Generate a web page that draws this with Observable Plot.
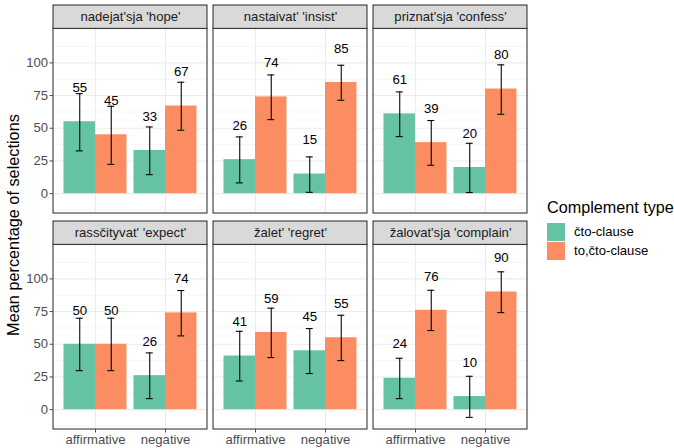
<!DOCTYPE html>
<html><head><meta charset="utf-8">
<script src="https://cdn.jsdelivr.net/npm/d3@7"></script>
<script src="https://cdn.jsdelivr.net/npm/@observablehq/plot@0.6"></script>
<style>
body{margin:0;background:#fff;font-family:"Liberation Sans",Arial,sans-serif;}
#wrap{position:relative;width:674px;height:448px;overflow:hidden;background:#fff;}
#chart{position:absolute;left:0;top:0;}
#ytitle{position:absolute;left:12.5px;top:224.5px;transform:translate(-50%,-50%) rotate(-90deg);white-space:nowrap;font-size:16.3px;color:#000;line-height:1;}
.lg{position:absolute;white-space:nowrap;}
#lgtitle{left:547px;top:197.5px;font-size:16.2px;line-height:18px;color:#000;}
.key{position:absolute;left:547px;width:18px;height:18px;}
.klab{position:absolute;left:574px;font-size:13.1px;line-height:18px;color:#000;white-space:nowrap;}
</style>
</head><body>
<div id="wrap">
<div id="chart"></div>
<div id="ytitle">Mean percentage of selections</div>
<div id="legend"></div>
</div>
<script>
const verbs = ["nadejat'sja 'hope'", "nastaivat' 'insist'", "priznat'sja 'confess'",
               "rassčityvat' 'expect'", "žalet' 'regret'", "žalovat'sja 'complain'"];
const conditions = ["affirmative", "negative"];
const complements = ["čto-clause", "to,čto-clause"];
const colors = ["#66c2a5", "#fc8d62"];
const legendTitle = "Complement type";
const yTicks = [0, 25, 50, 75, 100];
const yMinor = [-12.5, 12.5, 37.5, 62.5, 87.5, 112.5];

// mean percentages
const ctoAff = [55, 26, 61, 50, 41, 24];
const toAff  = [45, 74, 39, 50, 59, 76];
const ctoNeg = [33, 15, 20, 26, 45, 10];
const toNeg  = [67, 85, 80, 74, 55, 90];
// error bar bounds
const ctoAffLo = [32.7, 8.2, 43.6, 29.8, 21.9, 8.4];
const ctoAffHi = [76.5, 43.4, 77.8, 69.9, 59.9, 39.3];
const toAffLo  = [22.4, 56.6, 21.7, 29.8, 39.8, 60.5];
const toAffHi  = [66.8, 90.8, 55.9, 69.9, 77.6, 91.3];
const ctoNegLo = [14.5, 1.0, 0.8, 8.4, 27.6, -5.9];
const ctoNegHi = [51.0, 28.1, 38.5, 43.4, 62.0, 25.5];
const toNegLo  = [48.5, 71.4, 60.7, 56.4, 37.5, 74.2];
const toNegHi  = [85.2, 98.2, 98.5, 91.1, 72.2, 105.4];

const rows = [];
verbs.forEach((v, i) => {
  const add = (ci, k, value, lo, hi) => rows.push({
    verb: v, col: i % 3, row: Math.floor(i / 3),
    ci, cond: conditions[ci], k, comp: complements[k], value, lo, hi
  });
  add(0, 0, ctoAff[i], ctoAffLo[i], ctoAffHi[i]);
  add(0, 1, toAff[i], toAffLo[i], toAffHi[i]);
  add(1, 0, ctoNeg[i], ctoNegLo[i], ctoNegHi[i]);
  add(1, 1, toNeg[i], toNegLo[i], toNegHi[i]);
});
const panels = verbs.map((v, i) => ({verb: v, col: i % 3, row: Math.floor(i / 3)}));

const BW = 0.45;            // dodged bar width
const X0 = -0.6, X1 = 1.6;  // discrete expansion
const Y0 = -15.2, Y1 = 126, YS = 143.9; // panel & strip
const center = d => d.ci + (d.k - 0.5) * BW;
const fac = {fx: "col", fy: "row"};

const chart = Plot.plot({
  width: 535, height: 448,
  marginLeft: 53, marginRight: 8, marginTop: 5, marginBottom: 18,
  fx: {domain: [0, 1, 2], paddingInner: 0.039, paddingOuter: 0, axis: null},
  fy: {domain: [0, 1], paddingInner: 0.037, paddingOuter: 0, axis: null},
  x: {domain: [X0, X1]},
  y: {domain: [Y0, YS]},
  color: {domain: complements, range: colors},
  style: {fontFamily: "'Liberation Sans', Arial, sans-serif", fontSize: "13.1px", background: "white", overflow: "visible"},
  marks: [
    Plot.ruleY(yMinor, {x1: X0, x2: X1, stroke: "#ebebeb", strokeWidth: 0.55}),
    Plot.ruleY(yTicks, {x1: X0, x2: X1, stroke: "#ebebeb", strokeWidth: 1.07}),
    Plot.ruleX([0, 1], {y1: Y0, y2: Y1, stroke: "#ebebeb", strokeWidth: 1.07}),
    Plot.rectY(rows, {x1: d => d.ci - BW + d.k * BW, x2: d => d.ci + d.k * BW, y1: 0, y2: "value", fill: "comp", ...fac}),
    Plot.ruleX(rows, {x: center, y1: "lo", y2: "hi", stroke: "black", strokeWidth: 1.07, ...fac}),
    Plot.ruleY(rows, {y: "lo", x1: d => center(d) - 0.05, x2: d => center(d) + 0.05, stroke: "black", strokeWidth: 1.07, ...fac}),
    Plot.ruleY(rows, {y: "hi", x1: d => center(d) - 0.05, x2: d => center(d) + 0.05, stroke: "black", strokeWidth: 1.07, ...fac}),
    Plot.text(rows, {x: center, y: d => d.value + 26, text: "value", fontSize: 13.2, fill: "black", ...fac}),
    Plot.rect(panels, {x1: X0, x2: X1, y1: Y0, y2: Y1, fill: "none", stroke: "#333333", strokeWidth: 1.07, ...fac}),
    Plot.rect(panels, {x1: X0, x2: X1, y1: Y1, y2: YS, fill: "#d9d9d9", stroke: "#333333", strokeWidth: 1.07, ...fac}),
    Plot.text(panels, {x: 0.5, y: (Y1 + YS) / 2, text: "verb", fill: "#1a1a1a", fontSize: 13.1, ...fac}),
    Plot.axisY({ticks: yTicks, tickSize: 3.5, tickPadding: 2, color: "#4d4d4d", fontSize: 13.1, label: null}),
    Plot.axisX({ticks: [0, 1], tickFormat: i => conditions[i], tickSize: 3.5, tickPadding: 2, color: "#4d4d4d", fontSize: 13.1, label: null})
  ]
});
document.getElementById("chart").appendChild(chart);

const lg = document.getElementById("legend");
const t = document.createElement("div");
t.className = "lg"; t.id = "lgtitle"; t.textContent = legendTitle;
lg.appendChild(t);
complements.forEach((c, i) => {
  const k = document.createElement("div");
  k.className = "key"; k.style.top = (222.5 + i * 19) + "px"; k.style.background = colors[i];
  lg.appendChild(k);
  const l = document.createElement("div");
  l.className = "klab"; l.style.top = (222.5 + i * 19) + "px"; l.textContent = c;
  lg.appendChild(l);
});
</script>
</body></html>
